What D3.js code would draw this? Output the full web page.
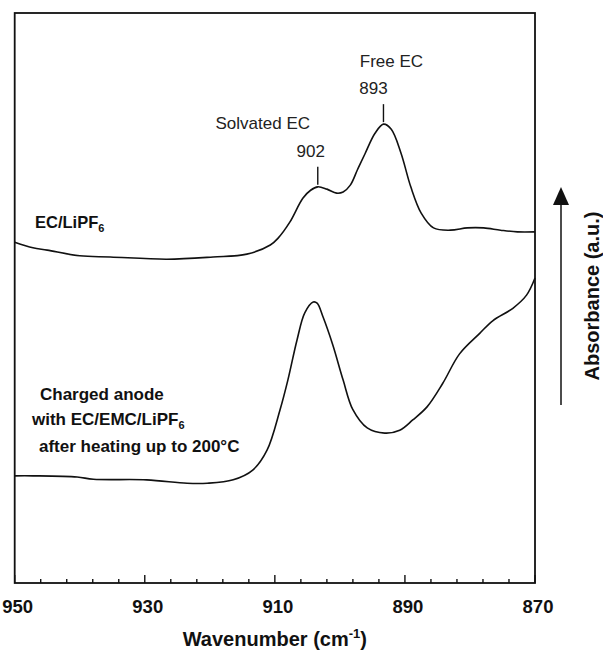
<!DOCTYPE html>
<html>
<head>
<meta charset="utf-8">
<script src="https://cdn.jsdelivr.net/npm/d3@7/dist/d3.min.js"></script>
<style>
  body { margin: 0; background: #fff; }
  svg { display: block; font-family: Arial, "Liberation Sans", sans-serif; }
</style>
</head>
<body>
<div id="container"></div>
<script>
// EC/LiPF6 spectrum (upper trace)
var ecWave = [950, 947.2, 945, 940, 935.3, 926.6, 919.5, 914.3, 910.7, 909.5, 907.7, 905.7, 904.5,
    903.4, 902.0, 900.5, 899.5, 898.4, 897.3, 896.1, 894.6, 893.3, 892.1, 890.6, 889.1, 887.5,
    885.6, 883.0, 880.4, 877.9, 875.3, 872.7, 870];
var ecAbs = [59.8, 58.8, 58.4, 57.4, 57.2, 56.8, 57.2, 57.7, 59.3, 60.5, 63.3, 67.5, 68.9,
    69.5, 69.1, 68.4, 68.6, 69.8, 72.5, 75.4, 78.9, 80.5, 79.6, 75.4, 69.5, 64.9,
    62.3, 61.9, 62.3, 62.3, 61.9, 61.6, 61.6];

// charged anode after heating (lower trace)
var anodeWave = [950, 947.2, 940.4, 937.9, 929.7, 923.5, 920.4, 916.4, 913.4, 911.2, 909.2, 908.0,
    906.6, 905.4, 904.1, 903.5, 902.6, 901.1, 899.5, 898.0, 895.8, 893.1, 890.8, 888.8, 886.6,
    884.2, 881.6, 878.5, 876.5, 873.4, 871.3, 870];
var anodeAbs = [18.8, 18.8, 18.6, 18.2, 18.1, 17.5, 17.5, 18.1, 19.8, 23.3, 30.4, 35.6,
    42.6, 47.4, 49.3, 49.1, 46.7, 41.8, 35.6, 30.4, 27.2, 26.3, 26.8, 28.6, 30.9,
    35.0, 40.2, 43.8, 46.0, 48.2, 50.5, 53.5];

// peak markers
var peakPos = [903.4, 893.3];
var peakLabels = ["902", "893"];
var peakNames = ["Solvated EC", "Free EC"];

var xTicks = [950, 930, 910, 890, 870];
var xMinor = d3.range(946, 870, -4).filter(d => xTicks.indexOf(d) < 0);

var width = 603;
var height = 651;
var margin = { left: 14.7, right: 68, top: 13, bottom: 68 };
var plotW = width - margin.left - margin.right;
var plotH = height - margin.top - margin.bottom;

var x = d3.scaleLinear().domain([950, 870]).range([0, plotW]);
var y = d3.scaleLinear().domain([0, 100]).range([plotH, 0]);

var svg = d3.select("#container")
    .append("svg")
    .attr("width", width)
    .attr("height", height);

var g = svg.append("g")
    .attr("transform", "translate(" + margin.left + "," + margin.top + ")");

// frame
g.append("rect")
    .attr("width", plotW)
    .attr("height", plotH)
    .attr("fill", "none")
    .attr("stroke", "#111")
    .attr("stroke-width", 1.8);

// inward ticks
g.selectAll("line.minor")
    .data(xMinor)
    .enter()
    .append("line")
    .attr("class", "minor")
    .attr("x1", d => x(d)).attr("x2", d => x(d))
    .attr("y1", plotH).attr("y2", plotH - 4)
    .attr("stroke", "#111").attr("stroke-width", 1.4);

g.selectAll("line.major")
    .data(xTicks)
    .enter()
    .append("line")
    .attr("class", "major")
    .attr("x1", d => x(d)).attr("x2", d => x(d))
    .attr("y1", plotH).attr("y2", plotH - 8)
    .attr("stroke", "#111").attr("stroke-width", 1.4);

g.selectAll("text.xlab")
    .data(xTicks)
    .enter()
    .append("text")
    .attr("class", "xlab")
    .attr("x", d => x(d) + 3)
    .attr("y", plotH + 30)
    .attr("text-anchor", "middle")
    .style("font-size", "18.5px")
    .style("font-weight", "bold")
    .attr("fill", "#111")
    .text(d3.format("d"));

var line = d3.line()
    .x(d => x(d[0]))
    .y(d => y(d[1]))
    .curve(d3.curveCatmullRom.alpha(0.5));

g.append("path")
    .datum(d3.zip(ecWave, ecAbs))
    .attr("d", line)
    .attr("fill", "none")
    .attr("stroke", "#111")
    .attr("stroke-width", 1.6);

g.append("path")
    .datum(d3.zip(anodeWave, anodeAbs))
    .attr("d", line)
    .attr("fill", "none")
    .attr("stroke", "#111")
    .attr("stroke-width", 1.6);

// peak annotations
var numDx = [-7, -10];
var nameDx = [-55, 8];
var nameDy = [-38, -37];
peakPos.forEach(function (p, i) {
    var py = y(ecAbs[ecWave.indexOf(p)]);
    var px = x(p);
    g.append("line")
        .attr("x1", px).attr("x2", px)
        .attr("y1", py - 2).attr("y2", py - 20)
        .attr("stroke", "#111").attr("stroke-width", 1.4);
    g.append("text")
        .attr("x", px + numDx[i]).attr("y", py - 30)
        .attr("text-anchor", "middle")
        .style("font-size", "17px")
        .attr("fill", "#222")
        .text(peakLabels[i]);
    g.append("text")
        .attr("x", px + nameDx[i]).attr("y", py - 20 + nameDy[i])
        .attr("text-anchor", "middle")
        .style("font-size", "17px")
        .attr("fill", "#222")
        .text(peakNames[i]);
});

// trace labels
var ecLabel = svg.append("text")
    .attr("x", 35).attr("y", 228)
    .style("font-size", "16.5px").style("font-weight", "bold").attr("fill", "#111");
ecLabel.append("tspan").text("EC/LiPF");
ecLabel.append("tspan").attr("dy", 4).style("font-size", "11px").text("6");

var anodeLines = [
    { x: 40, y: 400, t: "Charged anode" },
    { x: 32, y: 425, t: "with EC/EMC/LiPF", sub: "6" },
    { x: 39, y: 452, t: "after heating up to 200°C" }
];
anodeLines.forEach(function (d) {
    var t = svg.append("text")
        .attr("x", d.x).attr("y", d.y)
        .style("font-size", "17px").style("font-weight", "bold").attr("fill", "#111");
    t.append("tspan").text(d.t);
    if (d.sub) t.append("tspan").attr("dy", 4).style("font-size", "11px").text(d.sub);
});

// x axis title
var xt = svg.append("text")
    .attr("x", margin.left + plotW / 2).attr("y", 646)
    .attr("text-anchor", "middle")
    .style("font-size", "20px").style("font-weight", "bold").attr("fill", "#111");
xt.append("tspan").text("Wavenumber (cm");
xt.append("tspan").attr("dy", -8).style("font-size", "13px").text("-1");
xt.append("tspan").attr("dy", 8).text(")");

// absorbance arrow + label
svg.append("line")
    .attr("x1", 561).attr("x2", 561)
    .attr("y1", 405).attr("y2", 203)
    .attr("stroke", "#111").attr("stroke-width", 1.5);

svg.append("path")
    .attr("d", d3.line()([[553, 205], [561, 187], [569, 205]]) + "Z")
    .attr("fill", "#111");

svg.append("text")
    .attr("transform", "translate(599,296) rotate(-90)")
    .attr("text-anchor", "middle")
    .style("font-size", "20px").style("font-weight", "bold").attr("fill", "#111")
    .text("Absorbance (a.u.)");
</script>
</body>
</html>
